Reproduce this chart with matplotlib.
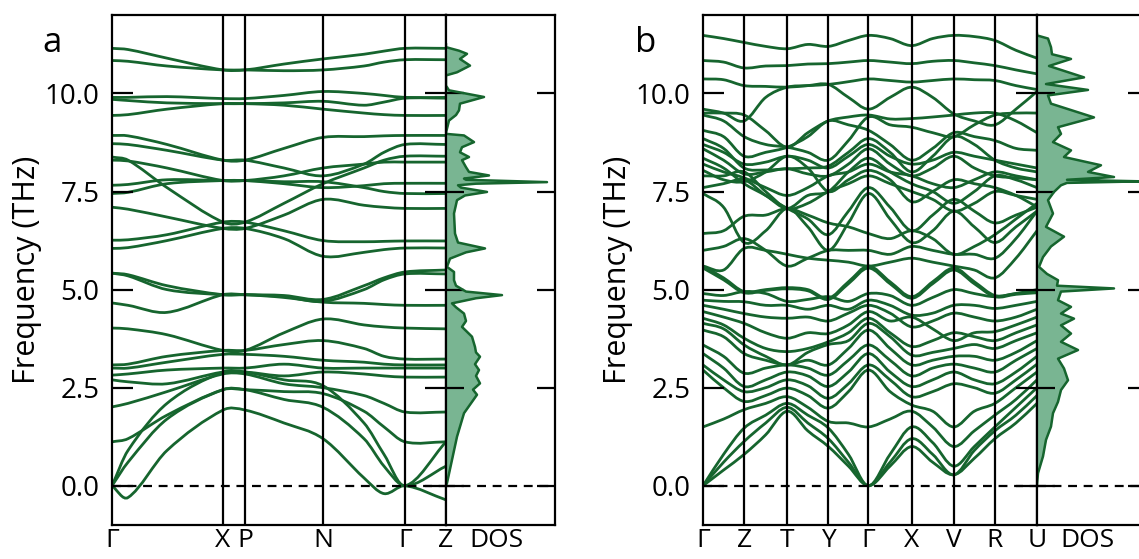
import numpy as np
import matplotlib
import matplotlib.pyplot as plt
from matplotlib.path import Path
from matplotlib.patches import PathPatch
matplotlib.use('Agg')

plt.rcParams['font.family'] = ['Open Sans', 'DejaVu Sans']

# ---------------- panel a: k-path and bands (THz) ----------------
kpath_a = [0, 16, 55, 111, 133, 172, 211, 252, 272, 293, 334]
labels_a = ['Γ', 'X', 'P', 'N', 'Γ', 'Z']
ticks_a = [0, 111, 133, 211, 293, 334]

bands_a = [
    [11.15, 11.12, 10.9, 10.6, 10.6, 10.75, 10.88, 11.0, 11.08, 11.15, 11.15],
    [10.84, 10.82, 10.7, 10.6, 10.6, 10.58, 10.6, 10.7, 10.8, 10.86, 10.86],
    [9.9, 9.9, 9.92, 9.87, 9.87, 9.95, 10.05, 10.0, 9.95, 9.9, 9.9],
    [9.85, 9.82, 9.76, 9.74, 9.74, 9.76, 9.8, 9.7, 9.78, 9.88, 9.88],
    [9.44, 9.46, 9.6, 9.74, 9.74, 9.7, 9.6, 9.5, 9.46, 9.44, 9.44],
    [8.93, 8.92, 8.7, 8.3, 8.3, 8.6, 8.88, 8.9, 8.92, 8.93, 8.93],
    [8.72, 8.7, 8.55, 8.3, 8.3, 8.1, 7.9, 8.2, 8.5, 8.7, 8.7],
    [8.38, 8.3, 7.6, 6.72, 6.72, 7.2, 7.7, 8.1, 8.3, 8.4, 8.4],
    [8.3, 8.28, 8.1, 7.78, 7.78, 7.9, 8.1, 8.2, 8.25, 8.25, 8.25],
    [7.66, 7.68, 7.8, 7.78, 7.78, 7.7, 7.6, 7.65, 7.7, 7.71, 7.71],
    [7.45, 7.48, 7.7, 7.78, 7.78, 7.75, 7.75, 7.6, 7.5, 7.45, 7.45],
    [7.1, 7.05, 6.85, 6.56, 6.56, 6.9, 7.3, 7.15, 7.1, 7.07, 7.07],
    [6.26, 6.27, 6.4, 6.72, 6.72, 6.5, 6.25, 6.22, 6.23, 6.24, 6.24],
    [6.05, 6.07, 6.25, 6.56, 6.56, 6.3, 5.85, 5.95, 6.02, 6.06, 6.06],
    [5.42, 5.38, 5.1, 4.87, 4.87, 4.85, 4.75, 5.1, 5.3, 5.45, 5.5],
    [5.42, 5.35, 5.0, 4.87, 4.87, 4.82, 4.7, 5.0, 5.25, 5.4, 5.4],
    [4.66, 4.6, 4.42, 4.87, 4.87, 4.8, 4.68, 4.65, 4.62, 4.6, 4.6],
    [4.02, 4.0, 3.85, 3.45, 3.45, 3.9, 4.25, 4.1, 4.05, 4.02, 4.0],
    [3.08, 3.1, 3.3, 3.45, 3.45, 3.6, 3.7, 3.5, 3.3, 3.23, 3.23],
    [3.0, 3.0, 3.15, 3.35, 3.35, 3.3, 3.2, 3.15, 3.1, 3.08, 3.08],
    [2.82, 2.85, 2.95, 3.0, 3.0, 3.1, 3.0, 3.0, 3.0, 3.0, 3.0],
    [2.7, 2.65, 2.6, 2.9, 2.9, 2.8, 2.9, 2.85, 2.8, 2.77, 2.77],
    [2.01, 2.1, 2.4, 2.85, 2.85, 2.6, 2.5, 2.3, 2.1, 1.88, 1.88],
    [1.12, 1.2, 1.8, 2.45, 2.45, 2.4, 2.35, 1.9, 1.5, 1.12, 1.12],
    [0.0, 0.9, 2.1, 2.9, 2.9, 2.7, 2.55, 1.6, 0.8, 0.0, 1.12],
    [0.0, 0.6, 1.7, 2.45, 2.45, 2.2, 2.0, 1.2, 0.5, 0.0, 0.5],
    [0.0, -0.3, 0.9, 1.93, 1.93, 1.6, 1.2, 0.2, -0.2, 0.0, -0.36],
]

dos_freq_a = [0.0, 0.07, 0.66, 1.25, 1.85, 2.32, 2.45, 2.61, 2.8, 2.95, 3.1, 3.29, 3.4,
              3.54, 3.8, 4.05, 4.2, 4.39, 4.55, 4.65, 4.78, 4.86, 4.95, 5.1, 5.24, 5.45,
              5.58, 5.79, 5.95, 6.05, 6.2, 6.43, 6.94, 7.28, 7.4, 7.49, 7.6, 7.66, 7.7,
              7.74, 7.8, 7.83, 7.91, 8.0, 8.12, 8.3, 8.38, 8.5, 8.63, 8.76, 8.93, 8.97,
              9.0, 9.31, 9.45, 9.57, 9.74, 9.91, 10.08, 10.2, 10.46, 10.54, 10.71, 10.88,
              11.01, 11.09, 11.18, 11.25]
dos_a = [0.0, 0.01, 0.06, 0.11, 0.18, 0.31, 0.27, 0.34, 0.30, 0.33, 0.29, 0.34, 0.30,
         0.29, 0.26, 0.16, 0.2, 0.18, 0.1, 0.06, 0.3, 0.56, 0.2, 0.1, 0.08, 0.08,
         0.01, 0.04, 0.2, 0.39, 0.12, 0.09, 0.08, 0.11, 0.19, 0.41, 0.15, 0.12, 0.3,
         1.01, 0.2, 0.18, 0.43, 0.23, 0.2, 0.16, 0.23, 0.14, 0.16, 0.28, 0.18, 0.0,
         0.0, 0.03, 0.1, 0.13, 0.14, 0.38, 0.03, 0.0, 0.0, 0.11, 0.24, 0.14, 0.21,
         0.13, 0.0, 0.0]

# ---------------- panel b ----------------
kpath_b = [0, 20.5, 41, 62.5, 84, 104.5, 125, 145, 165, 186.5, 208, 229, 250, 270.5, 291, 312, 333]
labels_b = ['Γ', 'Z', 'T', 'Y', 'Γ', 'X', 'V', 'R', 'U']
ticks_b = [0, 41, 84, 125, 165, 208, 250, 291, 333]

bands_b = [
    [11.48, 11.4, 11.3, 11.2, 11.14, 11.25, 11.2, 11.35, 11.48, 11.4, 11.22, 11.4, 11.48, 11.45, 11.35, 11.1, 10.9],
    [10.84, 10.8, 10.65, 10.7, 10.71, 10.75, 10.76, 10.8, 10.84, 10.8, 10.76, 10.82, 10.84, 10.78, 10.71, 10.6, 10.5],
    [10.37, 10.35, 10.2, 10.18, 10.16, 10.2, 10.23, 10.3, 10.37, 10.33, 10.29, 10.33, 10.37, 10.35, 10.33, 10.2, 10.1],
    [9.6, 9.5, 9.3, 9.9, 10.16, 10.2, 10.23, 9.9, 9.6, 9.9, 10.16, 9.9, 9.48, 9.3, 9.2, 9.6, 10.05],
    [9.5, 9.5, 9.45, 9.05, 8.63, 9.0, 9.3, 9.4, 9.45, 9.35, 9.36, 9.4, 9.45, 9.5, 9.5, 9.3, 9.0],
    [9.45, 9.3, 8.9, 8.7, 8.63, 8.5, 8.3, 8.8, 9.4, 9.2, 9.14, 9.0, 8.9, 9.2, 9.45, 9.5, 9.5],
    [9.06, 8.9, 8.4, 8.5, 8.63, 8.9, 9.3, 9.2, 9.06, 8.7, 8.3, 8.6, 9.0, 8.9, 8.8, 8.6, 8.55],
    [8.85, 8.6, 8.1, 8.05, 8.08, 8.1, 8.15, 8.5, 8.85, 8.5, 8.0, 8.4, 8.9, 8.7, 8.3, 8.1, 8.0],
    [8.7, 8.5, 8.2, 8.25, 8.4, 8.3, 8.1, 8.4, 8.7, 8.4, 8.2, 8.3, 8.5, 8.4, 8.3, 8.2, 8.1],
    [8.59, 8.3, 7.95, 8.0, 8.08, 7.95, 7.9, 8.2, 8.59, 8.2, 7.9, 8.1, 8.4, 8.1, 7.9, 7.85, 7.8],
    [8.35, 8.1, 7.7, 7.4, 7.07, 7.4, 7.5, 8.0, 8.35, 8.0, 7.7, 7.5, 7.2, 7.5, 7.9, 7.8, 7.6],
    [8.2, 8.0, 7.85, 7.6, 7.4, 7.6, 7.9, 8.0, 8.2, 8.0, 7.9, 7.7, 7.6, 7.8, 8.0, 7.9, 7.8],
    [8.04, 7.8, 7.75, 8.0, 8.4, 8.1, 7.5, 7.8, 8.04, 7.8, 7.24, 7.5, 7.8, 7.7, 7.6, 7.4, 7.11],
    [7.9, 7.9, 8.0, 7.5, 7.07, 7.2, 7.5, 7.7, 7.9, 7.7, 7.5, 7.3, 7.0, 7.2, 7.5, 7.4, 7.3],
    [7.6, 7.7, 7.8, 7.4, 7.07, 6.8, 6.4, 7.0, 7.6, 7.1, 6.5, 6.9, 7.3, 7.0, 6.7, 6.9, 7.1],
    [7.45, 7.1, 6.2, 6.5, 7.07, 6.6, 6.0, 6.7, 7.45, 6.8, 6.2, 6.5, 7.0, 6.6, 6.2, 6.6, 7.0],
    [6.43, 6.5, 6.87, 6.9, 7.07, 6.9, 6.7, 6.6, 6.43, 6.3, 6.5, 6.3, 5.9, 6.1, 6.4, 6.8, 7.2],
    [6.0, 6.1, 6.3, 6.0, 5.6, 5.8, 6.0, 6.0, 6.0, 5.9, 6.1, 6.0, 5.9, 5.9, 5.8, 6.3, 7.0],
    [5.6, 5.5, 6.05, 6.0, 5.9, 5.8, 5.75, 5.7, 5.6, 5.7, 5.8, 5.7, 5.6, 5.5, 5.3, 5.8, 6.5],
    [5.6, 5.3, 4.95, 5.0, 5.05, 5.0, 4.78, 5.2, 5.6, 5.2, 4.82, 5.2, 5.55, 5.2, 4.85, 4.9, 4.95],
    [5.55, 5.25, 4.92, 4.98, 5.02, 4.97, 4.75, 5.15, 5.55, 5.15, 4.78, 5.15, 5.5, 5.15, 4.82, 4.88, 4.92],
    [4.9, 4.85, 4.95, 4.9, 4.7, 4.75, 4.82, 4.7, 4.9, 4.85, 4.6, 4.8, 5.0, 4.9, 4.82, 4.9, 5.0],
    [4.73, 4.7, 4.69, 4.6, 4.6, 4.5, 4.6, 4.5, 4.73, 4.6, 4.35, 4.4, 4.6, 4.6, 4.52, 4.6, 4.7],
    [4.6, 4.5, 4.39, 4.3, 4.27, 4.3, 4.2, 4.4, 4.6, 4.4, 4.05, 4.2, 4.4, 4.3, 4.2, 4.3, 4.5],
    [4.44, 4.3, 4.14, 3.9, 3.76, 3.9, 3.88, 4.1, 4.44, 4.2, 4.3, 4.0, 3.7, 3.9, 3.93, 4.1, 4.3],
    [4.27, 4.1, 3.76, 3.5, 3.42, 3.5, 3.67, 3.9, 4.27, 3.9, 3.55, 3.7, 3.9, 3.8, 3.7, 3.9, 4.1],
    [4.14, 4.0, 3.59, 3.3, 3.08, 3.4, 3.6, 3.7, 4.14, 3.8, 3.33, 3.4, 3.5, 3.6, 3.5, 3.7, 3.9],
    [3.97, 3.8, 3.37, 3.2, 3.08, 3.2, 3.08, 3.5, 3.97, 3.5, 3.08, 3.2, 3.3, 3.3, 3.2, 3.4, 3.7],
    [3.59, 3.3, 2.87, 3.0, 3.08, 3.0, 2.82, 3.2, 3.59, 3.2, 2.8, 3.0, 3.1, 3.0, 2.9, 3.2, 3.5],
    [3.37, 3.0, 2.53, 2.7, 2.9, 2.8, 2.53, 2.9, 3.37, 2.9, 2.53, 2.7, 2.9, 2.7, 2.6, 2.9, 3.3],
    [3.08, 2.7, 2.4, 2.5, 2.7, 2.55, 2.23, 2.6, 3.08, 2.7, 2.27, 2.4, 2.6, 2.5, 2.36, 2.7, 3.1],
    [2.95, 2.5, 2.15, 2.3, 2.49, 2.3, 1.98, 2.4, 2.95, 2.4, 2.06, 1.9, 1.5, 1.9, 2.1, 2.5, 2.9],
    [1.5, 1.7, 1.94, 2.1, 2.27, 2.0, 1.64, 1.6, 1.5, 1.7, 1.9, 1.5, 1.0, 1.4, 1.8, 2.2, 2.7],
    [0.0, 0.8, 1.47, 1.8, 2.1, 1.8, 1.47, 0.8, 0.0, 0.8, 1.5, 1.1, 0.5, 1.0, 1.5, 2.0, 2.5],
    [0.0, 0.6, 1.13, 1.6, 2.0, 1.6, 1.2, 0.6, 0.0, 0.6, 1.2, 0.8, 0.28, 0.9, 1.4, 1.8, 2.3],
    [0.0, 0.4, 0.8, 1.3, 1.9, 1.4, 1.0, 0.5, 0.0, 0.5, 1.0, 0.6, 0.28, 0.7, 1.2, 1.6, 2.1],
]

dos_freq_b = [0.0, 0.02, 0.32, 0.75, 1.17, 1.51, 1.85, 2.14, 2.44, 2.69, 2.99, 3.24, 3.46,
              3.67, 3.88, 4.09, 4.26, 4.39, 4.56, 4.73, 4.95, 5.03, 5.1, 5.24, 5.4, 5.58,
              5.83, 6.1, 6.35, 6.6, 6.94, 7.28, 7.49, 7.66, 7.72, 7.76, 7.8, 7.87, 8.0,
              8.17, 8.38, 8.55, 8.76, 8.97, 9.14, 9.39, 9.74, 9.95, 10.09, 10.24, 10.41,
              10.7, 10.88, 11.0, 11.18, 11.4, 11.48, 11.52]
dos_b = [0.0, 0.0, 0.01, 0.06, 0.09, 0.14, 0.16, 0.21, 0.24, 0.31, 0.27, 0.21, 0.41,
         0.24, 0.34, 0.24, 0.37, 0.24, 0.34, 0.21, 0.24, 0.77, 0.2, 0.21, 0.1, 0.02,
         0.06, 0.14, 0.27, 0.09, 0.16, 0.11, 0.17, 0.24, 0.3, 1.05, 0.3, 0.77, 0.51,
         0.64, 0.27, 0.34, 0.16, 0.24, 0.21, 0.57, 0.14, 0.11, 0.51, 0.09, 0.47,
         0.12, 0.34, 0.15, 0.14, 0.11, 0.0, 0.0]

line_col = '#16652e'
fill_col = '#79b592'
W, H = 1139, 559


def band_path(x, y):
    # cubic Hermite through the read knots, drawn as Bezier segments
    x = np.asarray(x, float)
    y = np.asarray(y, float)
    n = len(x)
    m = np.zeros(n)
    m[0] = (y[1] - y[0]) / (x[1] - x[0])
    m[-1] = (y[-1] - y[-2]) / (x[-1] - x[-2])
    for i in range(1, n - 1):
        m[i] = (y[i + 1] - y[i - 1]) / (x[i + 1] - x[i - 1])
    verts = [(x[0], y[0])]
    codes = [Path.MOVETO]
    for i in range(n - 1):
        h = x[i + 1] - x[i]
        verts += [(x[i] + h / 3, y[i] + m[i] * h / 3),
                  (x[i + 1] - h / 3, y[i + 1] - m[i + 1] * h / 3),
                  (x[i + 1], y[i + 1])]
        codes += [Path.CURVE4] * 3
    return Path(verts, codes)


def style_axis(ax):
    for s in ax.spines.values():
        s.set_linewidth(1.6)
    ax.set_ylim(-1.0, 12.0)
    ax.set_yticks([0, 2.5, 5.0, 7.5, 10.0])


def draw_panel(x0, kpath, bands, ticks, labels, dos_f, dos_v, letter, letter_x):
    ax = fig.add_axes([x0 / W, 34 / H, 334 / W, 510 / H])
    style_axis(ax)
    for b in bands:
        ax.add_patch(PathPatch(band_path(kpath, b), fill=False, edgecolor=line_col,
                               lw=2.0, capstyle='round'))
    for t in ticks[1:-1]:
        ax.axvline(t, color='black', lw=1.6)
    ax.axhline(0, color='black', lw=1.6, ls=(0, (4, 3)))
    ax.set_xlim(kpath[0], kpath[-1])
    ax.set_xticks(ticks)
    ax.set_xticklabels(labels)
    ax.tick_params(axis='x', length=0, pad=2, labelsize=19)
    ax.tick_params(axis='y', direction='in', length=15, width=1.6, right=True,
                   pad=9, labelsize=20)
    ax.set_yticklabels(['0.0', '2.5', '5.0', '7.5', '10.0'])
    ax.set_ylabel('Frequency (THz)', fontsize=22, labelpad=2)

    dax = fig.add_axes([(x0 + 334) / W, 34 / H, 109 / W, 510 / H])
    style_axis(dax)
    dax.fill_betweenx(dos_f, 0, dos_v, color=fill_col, lw=0)
    dax.plot(dos_v, dos_f, color=line_col, lw=1.8)
    dax.axhline(0, color='black', lw=1.6, ls=(0, (4, 3)))
    dax.set_xlim(0, 1.09)
    dax.set_xticks([0.5])
    dax.set_xticklabels(['DOS'])
    dax.tick_params(axis='x', length=0, pad=2, labelsize=19)
    dax.tick_params(axis='y', direction='in', length=13, width=1.6, right=True,
                    labelleft=False)

    fig.text(letter_x / W, 1 - 43 / H, letter, fontsize=25, ha='center', va='center')


fig = plt.figure(figsize=(W / 100, H / 100), dpi=100)
draw_panel(112, kpath_a, bands_a, ticks_a, labels_a, dos_freq_a, dos_a, 'a', 52)
draw_panel(703, kpath_b, bands_b, ticks_b, labels_b, dos_freq_b, dos_b, 'b', 646)
fig.savefig('out.png', dpi=100)
